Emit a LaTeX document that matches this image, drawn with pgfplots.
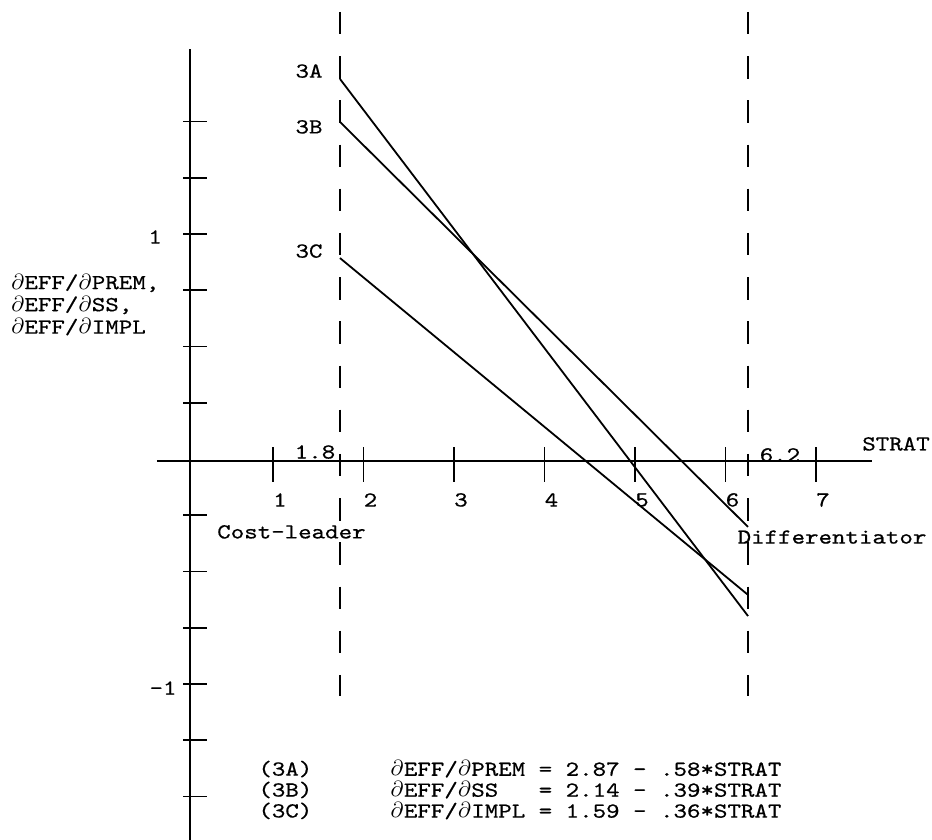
\documentclass[border=0pt]{standalone}
\usepackage{fontspec}
\setmonofont{lmmono10-regular.otf}[FakeStretch=1.2, FakeBold=0.6]
\usepackage{pgfplots}
\pgfplotsset{compat=1.18}
\newcommand\pd{\hbox to \fontcharwd\font`M{\hss$\partial$\hss}}
\tikzset{lab/.style={font=\ttfamily\fontsize{10.7}{12.8}\selectfont, inner sep=0pt, text=black}}
\begin{document}
\begin{tikzpicture}
\useasboundingbox (0,0) rectangle (466pt,420pt);
\begin{axis}[
  at={(0,0)}, anchor=south west,
  width=466pt, height=420pt, scale only axis,
  xmin=-2.0166, xmax=8.2818, ymin=-1.6933, ymax=2.04,
  enlargelimits=false,
  hide axis, clip=false,
]
% axes
\draw[line width=0.9pt] (axis cs:0.083,1.822) -- (axis cs:0.083,-1.6933);
\draw[line width=0.9pt] (axis cs:-0.282,-0.009) -- (axis cs:7.619,-0.009);
\pgfplotsinvokeforeach{1.5,1.25,1,0.75,0.5,0.25,-0.25,-0.5,-0.75,-1,-1.25,-1.5}{
  \draw[line width=0.9pt] (axis cs:0.0055,#1) -- (axis cs:0.271,#1);
}
\pgfplotsinvokeforeach{1,2,3,4,5,6,7}{
  \draw[line width=0.9pt] (axis cs:#1,0.053) -- (axis cs:#1,-0.102);
}
% dashed boundaries
\draw[line width=0.9pt, dash pattern=on 11.25pt off 10.85pt] (axis cs:1.740,1.987) -- (axis cs:1.740,-1.053);
\draw[line width=0.9pt, dash pattern=on 11.25pt off 10.85pt] (axis cs:6.249,1.987) -- (axis cs:6.249,-1.053);
% data lines
\addplot[black, line width=0.9pt] coordinates {(1.740,1.689) (6.249,-0.698)};
\addplot[black, line width=0.9pt] coordinates {(1.740,1.498) (6.249,-0.302)};
\addplot[black, line width=0.9pt] coordinates {(1.740,0.893) (6.249,-0.604)};
% labels
\node[lab] at (axis cs:1.398,1.724) {3A};
\node[lab] at (axis cs:1.398,1.476) {3B};
\node[lab] at (axis cs:1.398,0.924) {3C};
\node[lab] at (axis cs:-0.302,0.987) {1};
\node[lab] at (axis cs:-0.215,-1.018) {-1};
\node[lab] at (axis cs:1.464,0.031) {1.8};
\node[lab] at (axis cs:6.602,0.018) {6.2};
\node[lab] at (axis cs:7.884,0.067) {STRAT};
\node[lab] at (axis cs:1.077,-0.182) {1};
\node[lab] at (axis cs:2.077,-0.182) {2};
\node[lab] at (axis cs:3.077,-0.182) {3};
\node[lab] at (axis cs:4.077,-0.182) {4};
\node[lab] at (axis cs:5.077,-0.182) {5};
\node[lab] at (axis cs:6.077,-0.182) {6};
\node[lab] at (axis cs:7.077,-0.182) {7};
\node[lab, anchor=west] at (axis cs:0.38,-0.324) {Cost-leader};
\node[lab, anchor=west] at (axis cs:6.130,-0.347) {Differentiator};
\node[lab, anchor=west] at (axis cs:-1.90,0.782) {\pd EFF/\pd PREM,};
\node[lab, anchor=west] at (axis cs:-1.90,0.684) {\pd EFF/\pd SS,};
\node[lab, anchor=west] at (axis cs:-1.90,0.587) {\pd EFF/\pd IMPL};
\node[lab, anchor=west] at (axis cs:0.834,-1.378) {(3A)};
\node[lab, anchor=west] at (axis cs:0.834,-1.471) {(3B)};
\node[lab, anchor=west] at (axis cs:0.834,-1.564) {(3C)};
\node[lab, anchor=west] at (axis cs:2.293,-1.378) {\pd EFF/\pd PREM = 2.87 - .58*STRAT};
\node[lab, anchor=west] at (axis cs:2.293,-1.471) {\pd EFF/\pd SS~~~= 2.14 - .39*STRAT};
\node[lab, anchor=west] at (axis cs:2.293,-1.564) {\pd EFF/\pd IMPL = 1.59 - .36*STRAT};
\end{axis}
\end{tikzpicture}
\end{document}
